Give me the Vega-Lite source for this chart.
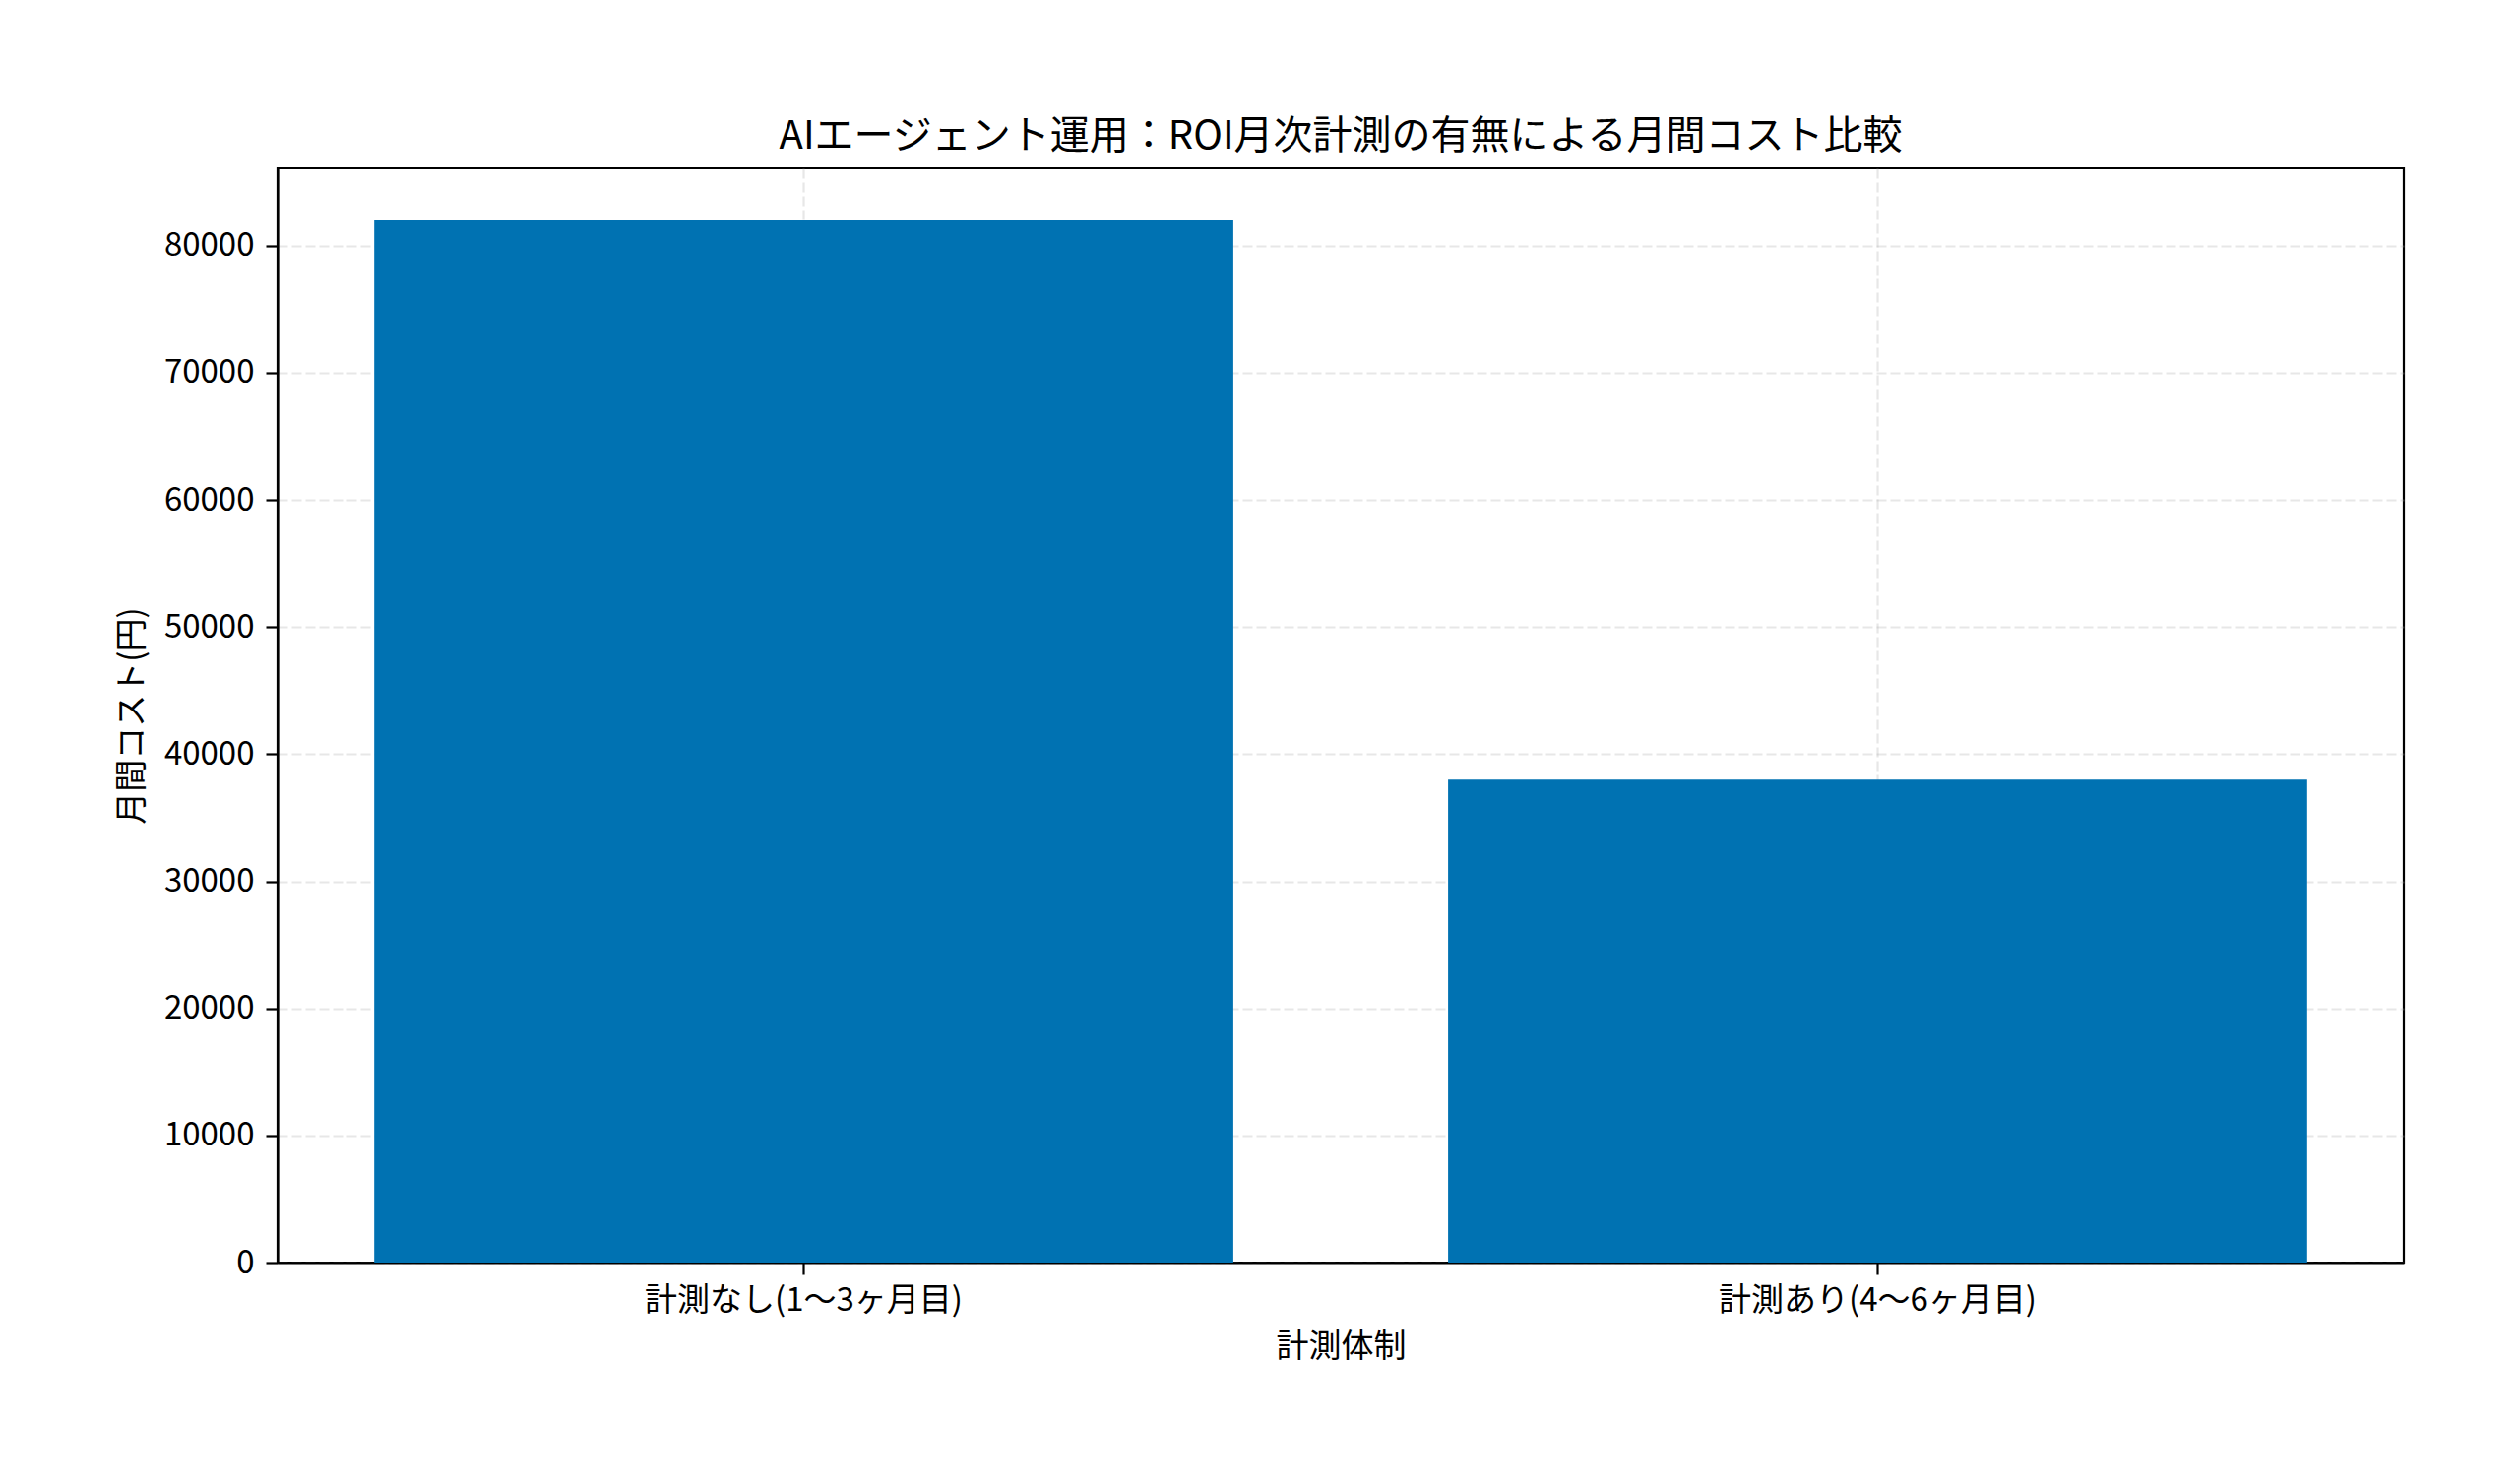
{
  "$schema": "https://vega.github.io/schema/vega-lite/v6.json",
  "autosize": {"type": "none"},
  "padding": {"left": 282, "top": 171, "right": 118, "bottom": 224},
  "width": 2160,
  "height": 1112,
  "background": "white",
  "title": {
    "text": "AIエージェント運用：ROI月次計測の有無による月間コスト比較",
    "font": "Noto Sans CJK JP",
    "fontSize": 40,
    "fontWeight": "normal",
    "color": "black",
    "anchor": "middle",
    "offset": 12
  },
  "data": {
    "values": [
      {"体制": "計測なし(1〜3ヶ月目)", "コスト": 82000},
      {"体制": "計測あり(4〜6ヶ月目)", "コスト": 38000}
    ]
  },
  "mark": {"type": "bar", "color": "#0072B2"},
  "encoding": {
    "x": {
      "field": "体制",
      "type": "nominal",
      "sort": null,
      "scale": {"paddingInner": 0.2, "paddingOuter": 0.09},
      "axis": {
        "title": "計測体制",
        "labelAngle": 0,
        "labelLimit": 0,
        "bandPosition": 0.5,
        "grid": true,
        "labelPadding": 10,
        "titlePadding": 14
      }
    },
    "y": {
      "field": "コスト",
      "type": "quantitative",
      "scale": {"domain": [0, 86100], "nice": false, "zero": true},
      "axis": {
        "title": "月間コスト(円)",
        "values": [0, 10000, 20000, 30000, 40000, 50000, 60000, 70000, 80000],
        "format": "d",
        "labelPadding": 12,
        "titlePadding": 15
      }
    }
  },
  "config": {
    "view": {"stroke": "black", "strokeWidth": 2.2},
    "axis": {
      "zindex": 1,
      "labelFont": "Noto Sans CJK JP",
      "titleFont": "Noto Sans CJK JP",
      "labelFontSize": 33,
      "titleFontSize": 33,
      "titleFontWeight": "normal",
      "labelColor": "black",
      "titleColor": "black",
      "domainColor": "black",
      "domainWidth": 2.2,
      "tickColor": "black",
      "tickWidth": 2.2,
      "tickSize": 12,
      "gridColor": "#b0b0b0",
      "gridOpacity": 0.3,
      "gridDash": [10, 4],
      "gridWidth": 2.2
    }
  }
}
